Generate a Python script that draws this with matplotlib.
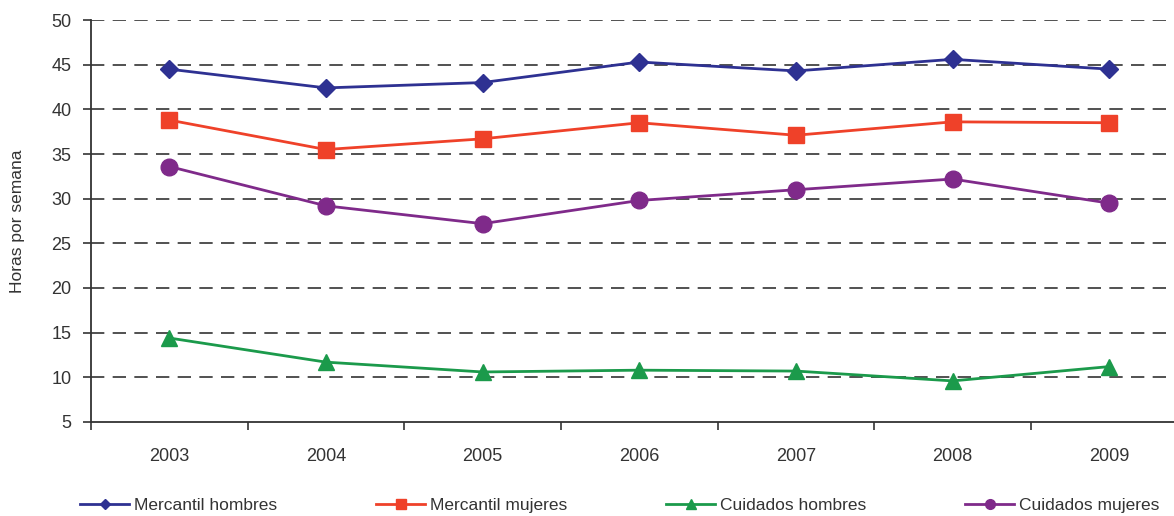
import matplotlib
matplotlib.use("Agg")
import matplotlib.pyplot as plt
from matplotlib.lines import Line2D

plt.rcParams['font.family'] = ['Liberation Sans', 'DejaVu Sans']

years = ['2003', '2004', '2005', '2006', '2007', '2008', '2009']
mercantil_hombres = [44.5, 42.4, 43.0, 45.3, 44.3, 45.6, 44.5]
mercantil_mujeres = [38.8, 35.5, 36.7, 38.5, 37.1, 38.6, 38.5]
cuidados_hombres = [14.4, 11.7, 10.6, 10.8, 10.7, 9.6, 11.2]
cuidados_mujeres = [33.6, 29.2, 27.2, 29.8, 31.0, 32.2, 29.5]

series = [
    ('Mercantil hombres', mercantil_hombres, '#2E3192', 'D', 9, 5),
    ('Mercantil mujeres', mercantil_mujeres, '#EF4129', 's', 12, 7),
    ('Cuidados hombres', cuidados_hombres, '#1B9A4B', '^', 12, 7),
    ('Cuidados mujeres', cuidados_mujeres, '#7F2A8A', 'o', 12, 7),
]

fig = plt.figure(figsize=(11.74, 5.16), dpi=100)
ax = fig.add_axes([0.0775, 0.1822, 0.934, 0.779])

x = list(range(len(years)))
handles = []
for label, vals, color, marker, ms, lms in series:
    ax.plot(x, vals, color=color, lw=2.0, marker=marker, markersize=ms,
            markeredgecolor=color, zorder=3)
    handles.append(Line2D([], [], color=color, lw=2.0, marker=marker,
                          markersize=lms, markeredgecolor=color, label=label))

ax.set_xlim(-0.5, len(years) - 0.5)
ax.set_ylim(5, 50)
ax.set_yticks(range(5, 51, 5))
ax.set_xticks(x)
ax.set_xticklabels(years)
ax.set_xticks([i + 0.5 for i in range(-1, len(years))], minor=True)
ax.tick_params(axis='x', which='major', length=0, pad=19, labelsize=13, labelcolor='#333333')
ax.tick_params(axis='x', which='minor', length=6, width=1.2, color='#333333', direction='out')
ax.tick_params(axis='y', length=6, width=1.2, color='#333333', pad=8, labelsize=13, labelcolor='#333333')

for y in range(10, 51, 5):
    ax.axhline(y, color='#333333', lw=1.2, linestyle=(0, (8, 5)), zorder=1)

for side in ['top', 'right']:
    ax.spines[side].set_visible(False)
for side in ['left', 'bottom']:
    ax.spines[side].set_color('#333333')
    ax.spines[side].set_linewidth(1.3)

fig.text(18 / 1174, 0.5717, 'Horas por semana', rotation=90, ha='center', va='center',
         fontsize=12.5, color='#333333')

fig.legend(handles=handles, loc='center', bbox_to_anchor=(0.528, 0.021), ncol=4,
           frameon=False, fontsize=12.5, handlelength=2.8, handletextpad=0.3,
           columnspacing=5.7, labelcolor='#333333')

fig.savefig('out.png', dpi=100)
